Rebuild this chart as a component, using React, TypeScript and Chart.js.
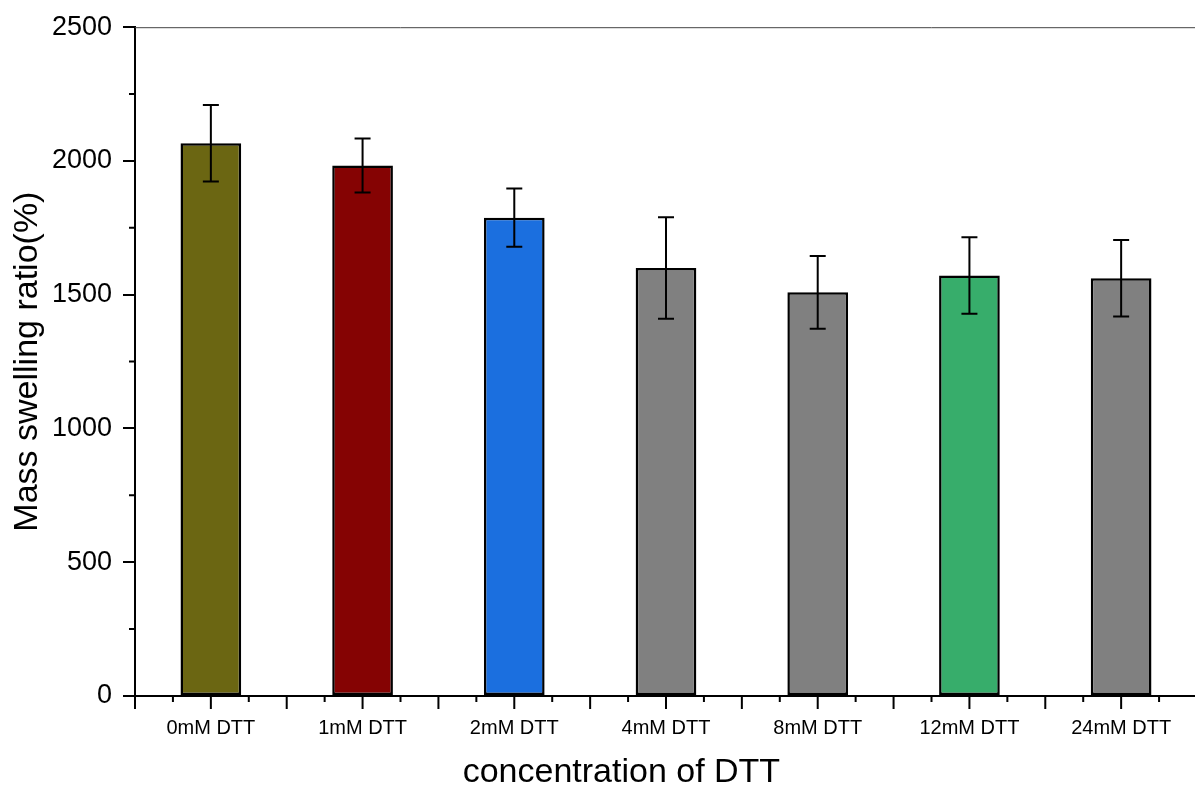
import React, { useEffect, useRef } from "react";
import { Chart, registerables } from "chart.js";

Chart.register(...registerables);

const categories = ["0mM DTT", "1mM DTT", "2mM DTT", "4mM DTT", "8mM DTT", "12mM DTT", "24mM DTT"];
const meanValues = [2066, 1983, 1788, 1600, 1509, 1572, 1562];
const errorValues = [143, 101, 109, 190, 136, 143, 143];
const barColors = ["#6B6612", "#850303", "#1B6FDF", "#808080", "#808080", "#37AD6B", "#808080"];
const yMajorTicks = [0, 500, 1000, 1500, 2000, 2500];
const yMinorTicks = [250, 750, 1250, 1750, 2250];
const xTitle = "concentration of DTT";
const yTitle = "Mass swelling ratio(%)";

const FONT = "'Liberation Sans', Arial, sans-serif";

const decorPlugin = {
  id: "decor",
  afterDatasetsDraw(chart: any) {
    const { ctx, scales } = chart;
    const x = scales.x;
    const y = scales.y;
    ctx.save();
    ctx.strokeStyle = "#000";
    ctx.lineWidth = 2;
    meanValues.forEach((m, i) => {
      const px = x.getPixelForValue(i);
      const yt = y.getPixelForValue(m + errorValues[i]);
      const yb = y.getPixelForValue(m - errorValues[i]);
      ctx.beginPath();
      ctx.moveTo(px, yt);
      ctx.lineTo(px, yb);
      ctx.moveTo(px - 8, yt);
      ctx.lineTo(px + 8, yt);
      ctx.moveTo(px - 8, yb);
      ctx.lineTo(px + 8, yb);
      ctx.stroke();
    });
    ctx.restore();
  },
  afterDraw(chart: any) {
    const { ctx, scales, chartArea, width } = chart;
    const x = scales.x;
    const y = scales.y;
    ctx.save();
    ctx.strokeStyle = "#444";
    ctx.lineWidth = 1;
    ctx.beginPath();
    ctx.moveTo(chartArea.left, chartArea.top + 0.5);
    ctx.lineTo(width, chartArea.top + 0.5);
    ctx.stroke();
    ctx.strokeStyle = "#000";
    ctx.lineWidth = 2;
    ctx.beginPath();
    yMinorTicks.forEach((v) => {
      const py = y.getPixelForValue(v);
      ctx.moveTo(chartArea.left - 6, py);
      ctx.lineTo(chartArea.left, py);
    });
    const n = categories.length;
    for (let k = -2; k <= (n - 1) * 4 + 2; k++) {
      const v = k / 4;
      const px = x.getPixelForValue(v);
      const long = k % 2 === 0;
      ctx.moveTo(px, chartArea.bottom);
      ctx.lineTo(px, chartArea.bottom + (long ? 13 : 6));
    }
    ctx.stroke();
    // x axis title (placed slightly left of center, as in the original)
    ctx.fillStyle = "#000";
    ctx.font = `34px ${FONT}`;
    ctx.textAlign = "center";
    ctx.textBaseline = "middle";
    ctx.fillText(xTitle, chartArea.left + (chartArea.right - chartArea.left) * 0.458, chartArea.bottom + 77);
    ctx.restore();
  },
};

export default function App() {
  const canvasRef = useRef<HTMLCanvasElement | null>(null);

  useEffect(() => {
    if (!canvasRef.current) return;
    const chart = new Chart(canvasRef.current, {
      type: "bar",
      data: {
        labels: categories,
        datasets: [
          {
            data: meanValues,
            backgroundColor: barColors,
            borderColor: "#000",
            borderWidth: 2.5,
            borderSkipped: false,
            barPercentage: 0.4,
            categoryPercentage: 1,
          },
        ],
      },
      options: {
        responsive: false,
        animation: false,
        layout: { padding: { top: 26, left: 0, right: 0, bottom: 0 } },
        plugins: {
          legend: { display: false },
          tooltip: { enabled: false },
        },
        scales: {
          x: {
            type: "category",
            offset: true,
            grid: { display: false },
            border: { display: true, color: "#000", width: 2 },
            ticks: {
              color: "#000",
              font: { family: FONT, size: 20 },
              padding: 12,
              maxRotation: 0,
            },
            afterFit(scale: any) {
              scale.height = 95;
            },
          },
          y: {
            min: 0,
            max: 2500,
            grid: {
              display: true,
              drawOnChartArea: false,
              drawTicks: true,
              tickLength: 12,
              color: "#000",
              lineWidth: 2,
            },
            border: { display: true, color: "#000", width: 2 },
            afterBuildTicks(scale: any) {
              scale.ticks = yMajorTicks.map((v) => ({ value: v }));
            },
            ticks: {
              color: "#000",
              font: { family: FONT, size: 27 },
              padding: 11,
              callback: (v: any) => String(v),
            },
            title: {
              display: true,
              text: yTitle,
              color: "#000",
              font: { family: FONT, size: 34, lineHeight: 1.2 },
              padding: { top: 7, bottom: 0 },
            },
            afterFit(scale: any) {
              scale.width = 135;
            },
          },
        },
      },
      plugins: [decorPlugin],
    });
    return () => chart.destroy();
  }, []);

  return (
    <div
      style={{
        position: "fixed",
        left: 0,
        top: 0,
        width: 1195,
        height: 791,
        overflow: "hidden",
        background: "#fff",
      }}
    >
      <canvas ref={canvasRef} width={1197} height={791} style={{ display: "block" }} />
    </div>
  );
}
